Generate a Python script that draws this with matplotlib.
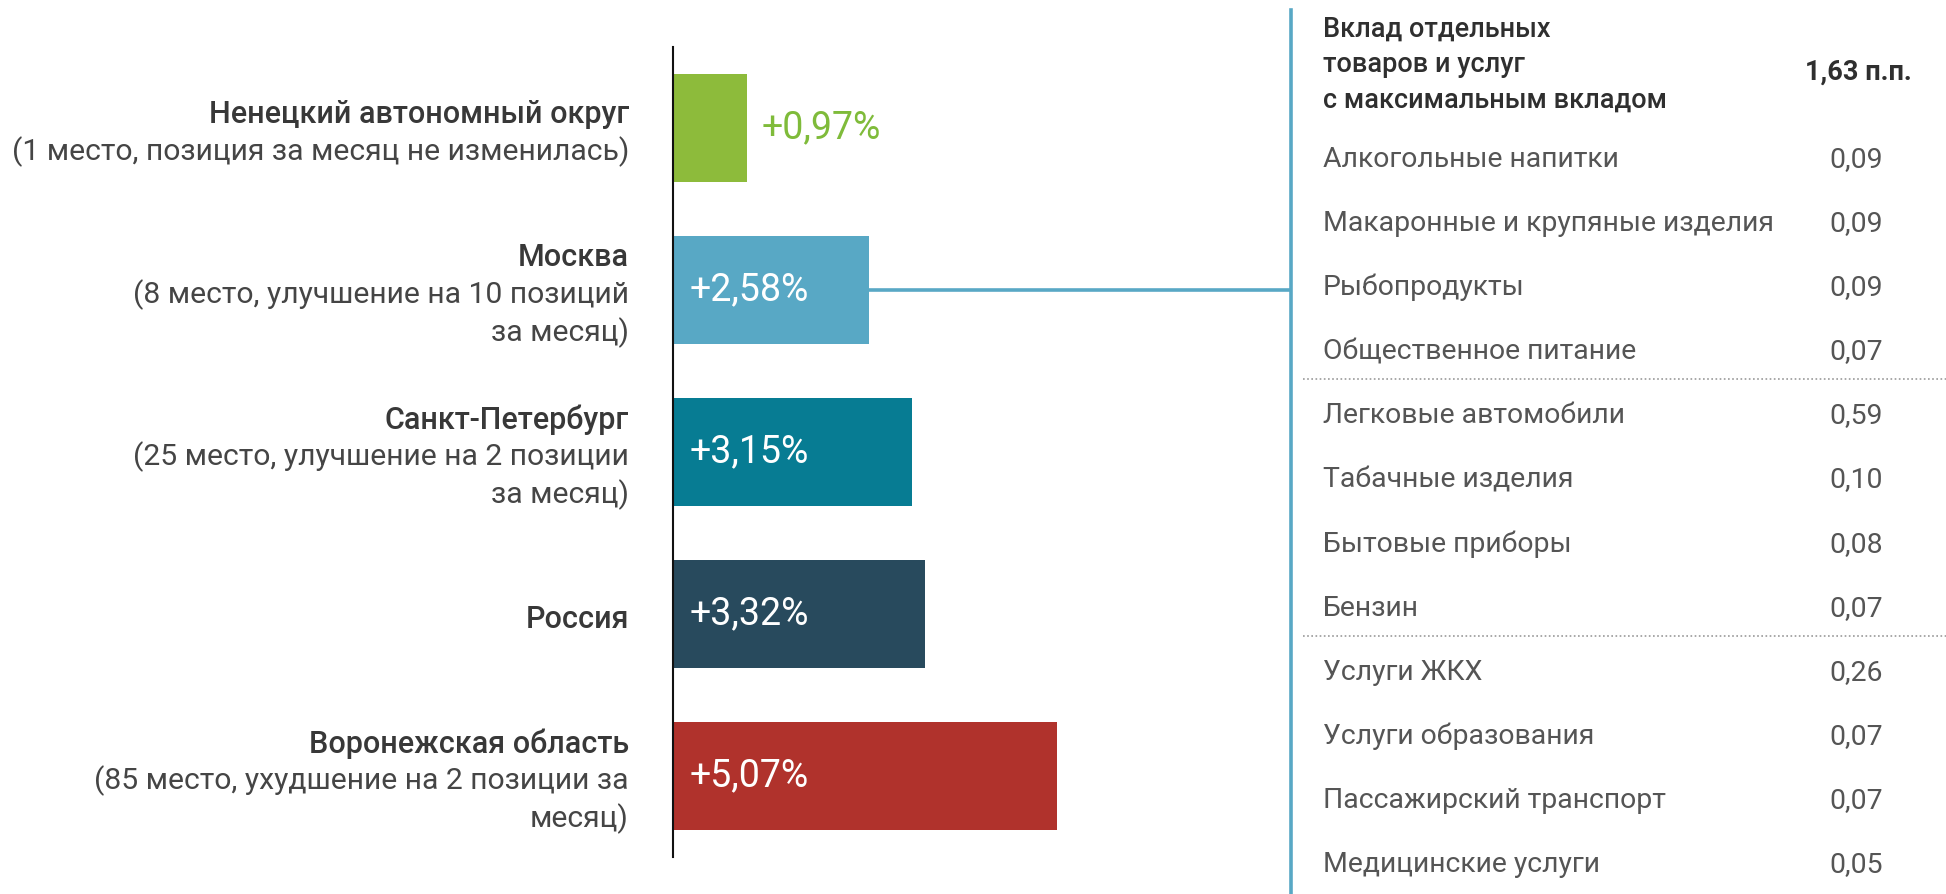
import matplotlib
matplotlib.use("Agg")
import matplotlib.pyplot as plt

plt.rcParams['font.family'] = ['Roboto', 'DejaVu Sans']

# Left part: inflation by region
regions = ['Ненецкий автономный округ', 'Москва', 'Санкт-Петербург', 'Россия', 'Воронежская область']
notes = [
    '(1 место, позиция за месяц не изменилась)',
    '(8 место, улучшение на 10 позиций\nза месяц)',
    '(25 место, улучшение на 2 позиции\nза месяц)',
    '',
    '(85 место, ухудшение на 2 позиции за\nмесяц)',
]
values = [0.97, 2.58, 3.15, 3.32, 5.07]
value_labels = ['+0,97%', '+2,58%', '+3,15%', '+3,32%', '+5,07%']
colors = ['#8dbb3b', '#58a8c5', '#077c93', '#284a5d', '#b0322c']

# Right part: contributions
header = ['Вклад отдельных', 'товаров и услуг', 'с максимальным вкладом']
header_total = '1,63 п.п.'
items = ['Алкогольные напитки', 'Макаронные и крупяные изделия', 'Рыбопродукты',
         'Общественное питание', 'Легковые автомобили', 'Табачные изделия',
         'Бытовые приборы', 'Бензин', 'Услуги ЖКХ', 'Услуги образования',
         'Пассажирский транспорт', 'Медицинские услуги']
item_values = ['0,09', '0,09', '0,09', '0,07', '0,59', '0,10', '0,08', '0,07',
               '0,26', '0,07', '0,07', '0,05']
separators_after = [3, 7]

W, H = 1946, 894
fig = plt.figure(figsize=(W / 100, H / 100), dpi=100)

# bar axes: from x=673 to x=1291 px, y 47..857 px
ax = fig.add_axes([673 / W, (H - 857) / H, (1291 - 673) / W, 810 / H])
px_per_unit = 75.8
ax.set_xlim(0, (1291 - 673) / px_per_unit)
ax.set_ylim(4.5, -0.5)
ypos = list(range(len(regions)))
ax.barh(ypos, values, height=0.67, color=colors)
for s in ['top', 'right', 'bottom']:
    ax.spines[s].set_visible(False)
ax.spines['left'].set_linewidth(1.5)
ax.spines['left'].set_color('#111111')
ax.set_xticks([])
ax.set_yticks([])
ax.patch.set_alpha(0)

# connector from Moscow bar to table
ax.plot([values[1], ax.get_xlim()[1]], [1, 1], color='#58a8c5', lw=2.6,
        clip_on=False, solid_capstyle='butt')

# value labels
for i, (v, lab) in enumerate(zip(values, value_labels)):
    if v < 1.5:
        ax.annotate(lab, xy=(v, i), xytext=(15, 0), textcoords='offset pixels',
                    va='center', ha='left', fontsize=27, color='#7fbb3a')
    else:
        ax.annotate(lab, xy=(0, i), xytext=(17, 0), textcoords='offset pixels',
                    va='center', ha='left', fontsize=27, color='white')

# region labels
line_h = 37.5
ytr = ax.get_yaxis_transform()
for i, (name, note) in enumerate(zip(regions, notes)):
    lines = [name] + (note.split('\n') if note else [])
    n = len(lines)
    for k, ln in enumerate(lines):
        dy = (k - (n - 1) / 2) * line_h + 5
        ax.annotate(ln, xy=(0, i), xycoords=ytr, xytext=(-44, -dy),
                    textcoords='offset pixels', ha='right', va='center',
                    fontsize=22 if k == 0 else 21.7,
                    color='#383838' if k == 0 else '#454545',
                    fontweight='medium' if k == 0 else 'normal')

# table axes
tax = fig.add_axes([1291 / W, 0, (W - 1291) / W, 1])
tax.set_xlim(0, W - 1291)
tax.set_ylim(H, 0)
tax.axis('off')
tax.patch.set_alpha(0)
tax.plot([0, 0], [10, H], color='#58a8c5', lw=2.6, clip_on=False)

for k, hl in enumerate(header):
    tax.text(32, 37 + k * 35.5, hl, ha='left', va='baseline', fontsize=19.5,
             fontweight='medium', color='#2f2f2f')
tax.text(514, 80, header_total, ha='left', va='baseline', fontsize=19.5,
         fontweight='bold', color='#2f2f2f')

row0 = 167
pitch = 64.1
for i, (it, val) in enumerate(zip(items, item_values)):
    y = row0 + i * pitch
    tax.text(32, y, it, ha='left', va='baseline', fontsize=20.4, color='#555555')
    tax.text(538, y, val, ha='left', va='baseline', fontsize=20.4, color='#555555')

for j in separators_after:
    y = row0 + (j + 0.5) * pitch - 12
    tax.plot([12, W - 1291], [y, y], color='#999999', lw=1.2, ls=(0, (1, 1.5)),
             clip_on=False)

fig.savefig('out.png', dpi=100)
